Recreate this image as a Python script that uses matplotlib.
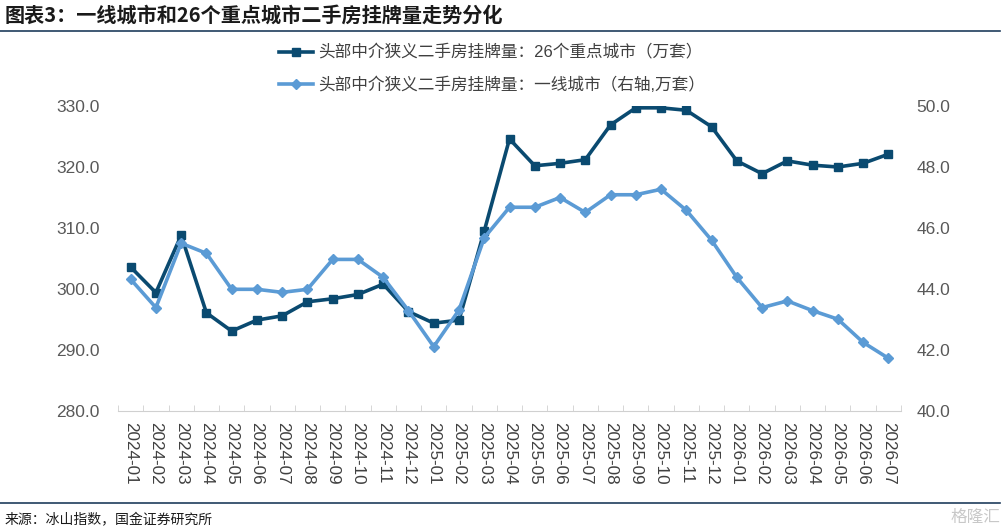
import matplotlib
matplotlib.use("Agg")
import matplotlib.pyplot as plt
from matplotlib.lines import Line2D
import numpy as np

plt.rcParams['font.family'] = ['Liberation Sans', 'Noto Sans CJK SC', 'DejaVu Sans']

months = ["2024-01", "2024-02", "2024-03", "2024-04", "2024-05", "2024-06", "2024-07",
          "2024-08", "2024-09", "2024-10", "2024-11", "2024-12", "2025-01", "2025-02",
          "2025-03", "2025-04", "2025-05", "2025-06", "2025-07", "2025-08", "2025-09",
          "2025-10", "2025-11", "2025-12", "2026-01", "2026-02", "2026-03", "2026-04",
          "2026-05", "2026-06", "2026-07"]
key26 = [303.6, 299.4, 308.8, 296.1, 293.1, 294.9, 295.6, 297.9, 298.4, 299.1, 300.8,
         296.3, 294.4, 294.9, 309.5, 324.6, 320.2, 320.6, 321.2, 326.9, 329.7, 329.7,
         329.3, 326.6, 321.0, 318.9, 321.0, 320.3, 320.0, 320.6, 322.1]
tier1 = [44.32, 43.39, 45.50, 45.17, 43.99, 43.99, 43.89, 43.99, 44.97, 44.97, 44.38,
         43.29, 42.11, 43.31, 45.68, 46.68, 46.68, 47.00, 46.51, 47.09, 47.09, 47.27,
         46.58, 45.60, 44.38, 43.39, 43.61, 43.29, 43.01, 42.25, 41.73]
left_ticks = [280, 290, 300, 310, 320, 330]
right_ticks = [40, 42, 44, 46, 48, 50]
label26 = "头部中介狭义二手房挂牌量：26个重点城市（万套）"
label1 = "头部中介狭义二手房挂牌量：一线城市（右轴,万套）"
title = "图表3：一线城市和26个重点城市二手房挂牌量走势分化"
source = "来源：冰山指数，国金证券研究所"

dark = "#0a4a70"
light = "#5b9bd5"
tick_color = "#595959"

fig = plt.figure(figsize=(10.07, 5.32), dpi=100)
ax = fig.add_axes([118/1007, 1-411/532, 783/1007, 305/532])
ax2 = ax.twinx()

x = np.arange(len(months))
ax.plot(x, key26, color=dark, lw=2.6, marker='s', ms=6, zorder=3)
ax2.plot(x, tier1, color=light, lw=2.6, marker='D', ms=5.5, zorder=3)

ax.set_xlim(-0.5, len(months) - 0.5)
ax.set_ylim(280, 330)
ax2.set_ylim(40, 50)
ax.set_yticks(left_ticks)
ax.set_yticklabels([f"{v:.1f}" for v in left_ticks])
ax2.set_yticks(right_ticks)
ax2.set_yticklabels([f"{v:.1f}" for v in right_ticks])

ax.set_xticks(x)
ax.set_xticklabels(months, rotation=-90, fontsize=12.3, color="#404040")
ax.set_xticks(np.arange(-0.5, len(months)), minor=True)
ax.tick_params(axis='x', which='major', length=0, pad=8)
ax.tick_params(axis='x', which='minor', length=4, direction='in', color="#d0d0d0")
ax.tick_params(axis='y', length=0, labelsize=12.5, labelcolor=tick_color, pad=13)
ax2.tick_params(axis='y', length=0, labelsize=12.5, labelcolor=tick_color, pad=11)

for a in (ax, ax2):
    for s in ('left', 'right', 'top'):
        a.spines[s].set_visible(False)
    a.spines['bottom'].set_color("#d0d0d0")
ax2.spines['bottom'].set_visible(False)

handles = [Line2D([], [], color=dark, lw=2.6, marker='s', ms=6),
           Line2D([], [], color=light, lw=2.6, marker='D', ms=5.5)]
fig.legend(handles, [label26, label1], loc='center', bbox_to_anchor=(492/1007, 1-69/532),
           frameon=False, fontsize=12, labelcolor="#404040", handlelength=2.0,
           handletextpad=0.3, labelspacing=0.95, borderpad=0)

fig.text(5/1007, 1-15/532, title, fontsize=14.5, fontweight='bold', color="#1a1a1a",
         va='center', ha='left', family=['Noto Sans CJK SC', 'DejaVu Sans'], style='italic')
fig.add_artist(Line2D([0, 1000/1007], [1-31/532, 1-31/532], color="#1f3d5c", lw=1.2))
fig.add_artist(Line2D([0, 1000/1007], [1-503/532, 1-503/532], color="#1f3d5c", lw=1.2))
fig.text(5/1007, 1-520/532, source, fontsize=10, color="#1a1a1a", va='center', ha='left',
         family=['Noto Sans CJK SC', 'DejaVu Sans'])
fig.text(1000/1007, 1-517/532, "格隆汇", fontsize=12, color="#c8c8c8", va='center', ha='right',
         family=['Noto Sans CJK SC', 'DejaVu Sans'])

fig.savefig("out.png", dpi=100)
